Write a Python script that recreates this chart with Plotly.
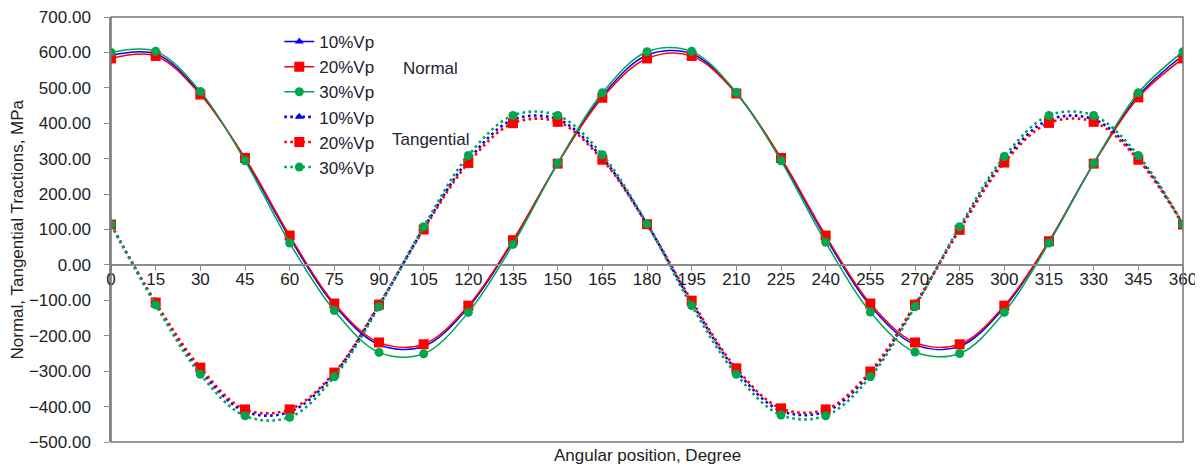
import plotly.graph_objects as go

angles = list(range(0, 361, 15))

normal_10 = [592, 596, 485, 299, 77, -114, -225, -230, -120, 67, 287, 478, 592,
             596, 485, 299, 77, -115, -225, -230, -120, 66, 287, 478, 592]
normal_20 = [583, 590, 481, 302, 83, -109, -219, -224, -115, 70, 286, 472, 583,
             590, 484, 302, 83, -109, -219, -224, -115, 67, 286, 473, 583]
normal_30 = [600, 603, 490, 294, 62, -129, -247, -251, -134, 58, 287, 486, 602,
             603, 487, 294, 64, -133, -246, -250, -134, 62, 287, 486, 602]

tang_10 = [114, -108, -297, -414, -415, -308, -114, 103, 296, 410, 411, 302, 115,
           -106, -298, -412, -414, -306, -114, 102, 296, 410, 411, 302, 114]
tang_20 = [114, -106, -290, -408, -408, -304, -112, 100, 288, 400, 404, 297, 115,
           -101, -292, -405, -408, -301, -112, 99, 289, 401, 404, 297, 114]
tang_30 = [114, -113, -309, -426, -430, -316, -118, 108, 309, 422, 422, 311, 116,
           -115, -309, -424, -426, -316, -118, 108, 306, 422, 422, 309, 114]

labels = ["10%Vp", "20%Vp", "30%Vp"]
colors = ["#0000FF", "#FF0000", "#00A64F"]
symbols = ["triangle-up", "square", "circle"]
msizes = [8, 10, 9]

FONT = "Arial, Liberation Sans, sans-serif"
fig = go.Figure()

for i, ys in enumerate([normal_10, normal_20, normal_30]):
    fig.add_trace(go.Scatter(
        x=angles, y=ys, name=labels[i], mode="lines+markers",
        line=dict(color=colors[i], width=1.5, shape="spline", smoothing=1),
        marker=dict(symbol=symbols[i], size=msizes[i], color=colors[i]),
        legendgroup=f"n{i}"))

for i, ys in enumerate([tang_10, tang_20, tang_30]):
    fig.add_trace(go.Scatter(
        x=angles, y=ys, name=labels[i], mode="lines+markers",
        line=dict(color=colors[i], width=2.6, dash="2.6px,3.4px", shape="spline", smoothing=1),
        marker=dict(symbol=symbols[i], size=msizes[i], color=colors[i]),
        legendgroup=f"t{i}"))

# page body has an 8px default margin; the figure is sized to fit the window
fig.update_layout(
    width=1195, height=459,
    margin=dict(l=103, r=20, t=9, b=25, autoexpand=False),
    paper_bgcolor="white", plot_bgcolor="white",
    font=dict(family=FONT, size=17, color="#222222"),
    showlegend=True,
    legend=dict(x=0.157, y=0.9835, xanchor="left", yanchor="top",
                bgcolor="rgba(255,255,255,0)", font=dict(size=17, color="#222233"),
                tracegroupgap=0, traceorder="grouped"),
    xaxis=dict(range=[0, 360], tickvals=angles, ticktext=[str(a) for a in angles],
               anchor="free", position=500 / 1200, showline=True, linecolor="#8c8c8c",
               linewidth=1.5, ticks="outside", ticklen=5, tickcolor="#8c8c8c",
               showgrid=False, zeroline=False, automargin=False,
               ticklabelstandoff=-6, ticklabeloverflow="allow",
               tickfont=dict(size=17, color="#222222")),
    yaxis=dict(range=[-500, 700], dtick=100, tickformat=".2f", showline=True,
               linecolor="#8c8c8c", linewidth=1.5, ticks="outside", ticklen=5,
               tickcolor="#8c8c8c", showgrid=False, zeroline=False, automargin=False,
               ticklabelstandoff=10, ticklabeloverflow="allow",
               tickfont=dict(size=17, color="#222222")),
    shapes=[dict(type="rect", xref="paper", yref="paper", x0=0, x1=1, y0=0, y1=1,
                 line=dict(color="#777777", width=1.5))],
    annotations=[
        dict(text="Angular position, Degree", xref="paper", yref="paper", x=0.5,
             y=-0.031, xanchor="center", yanchor="middle", showarrow=False,
             font=dict(size=17, color="#222222")),
        dict(text="Normal, Tangential Tractions, MPa", xref="paper", yref="paper",
             x=-0.0868, y=0.5, xanchor="center", yanchor="middle", textangle=-90,
             showarrow=False, font=dict(size=17, color="#222222")),
        dict(text="Normal", xref="paper", yref="paper", x=0.2985, y=0.88,
             xanchor="center", yanchor="middle", showarrow=False,
             font=dict(size=17, color="#222233")),
        dict(text="Tangential", xref="paper", yref="paper", x=0.2985, y=0.7106,
             xanchor="center", yanchor="middle", showarrow=False,
             font=dict(size=17, color="#222233")),
    ],
)

fig.write_html("out.html")
